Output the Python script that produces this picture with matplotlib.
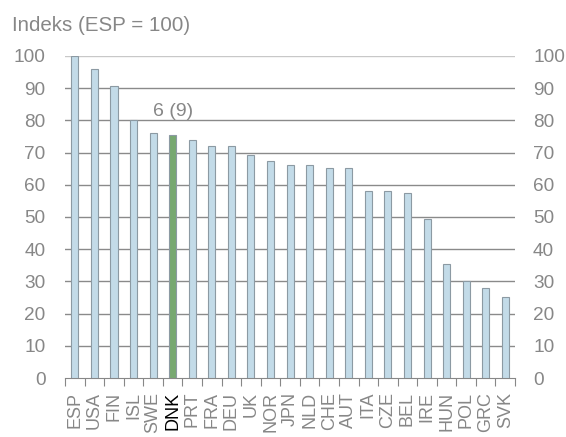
import matplotlib.pyplot as plt
import matplotlib.transforms as mtransforms
import numpy as np

plt.rcParams["font.family"] = ["Liberation Sans", "DejaVu Sans"]

countries = ["ESP", "USA", "FIN", "ISL", "SWE", "DNK", "PRT", "FRA", "DEU", "UK",
             "NOR", "JPN", "NLD", "CHE", "AUT", "ITA", "CZE", "BEL", "IRE", "HUN",
             "POL", "GRC", "SVK"]
index_values = [100, 96, 90.7, 80, 76, 75.3, 74, 72, 72, 69.3,
                67.3, 66, 66, 65.3, 65.3, 58, 58, 57.3, 49.3, 35.3,
                30, 28, 25.3]
highlight = "DNK"
note = "6 (9)"
yticks = list(range(0, 101, 10))

grey = "#878787"
fig = plt.figure(figsize=(5.66, 4.37), dpi=100)
ax = fig.add_axes([0.115, 0.135, 0.795, 0.737])

x = np.arange(len(countries))
colors = ["#77a870" if c == highlight else "#c3dbe8" for c in countries]
ax.bar(x, index_values, width=0.36, color=colors, edgecolor="#8c9aa3", linewidth=0.8, zorder=3)

ax.set_xlim(-0.5, len(countries) - 0.5)
ax.set_ylim(0, 100)
ax.set_yticks(yticks)
for y in yticks[1:]:
    ax.axhline(y, color="#c8c8c8" if y == 100 else "#8a8a8a", linewidth=1.0, zorder=1)

for s in ["left", "right", "top"]:
    ax.spines[s].set_visible(False)
ax.spines["bottom"].set_color(grey)

# ticks sit between the bars, labels under each bar
ax.set_xticks(np.arange(-0.5, len(countries), 1.0))
ax.set_xticklabels([])
ax.tick_params(axis="x", length=6, color=grey, direction="out")
ax.set_xticks(x, minor=True)
ax.set_xticklabels(countries, minor=True, rotation=90, fontsize=13, color=grey)
ax.tick_params(axis="x", which="minor", length=0, pad=10)
for lbl in ax.get_xticklabels(minor=True):
    if lbl.get_text() == highlight:
        lbl.set_color("black")

ax.tick_params(axis="y", length=0, labelsize=13.7, labelcolor=grey, pad=14)

# right-hand copy of the y labels
right_tr = mtransforms.offset_copy(ax.get_yaxis_transform(), fig=fig, x=18, y=0, units="dots")
for y in yticks:
    ax.text(1.0, y, str(y), transform=right_tr, ha="left", va="center_baseline",
            fontsize=13.7, color=grey)

i = countries.index(highlight)
ax.text(x[i], 81.5, note, ha="center", va="baseline", fontsize=14, color=grey)

fig.text(0.021, 1 - 31 / 437, "Indeks (ESP = 100)", fontsize=14.8, color=grey, va="baseline")

fig.savefig("out.png", dpi=100)
